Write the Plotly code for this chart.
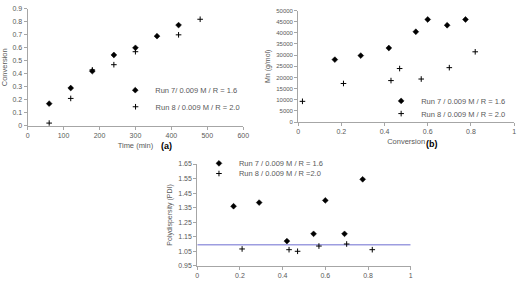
import plotly.graph_objects as go

# ---- data ----
time_r7 = [60, 120, 180, 240, 300, 360, 420]
conv_r7 = [0.17, 0.29, 0.42, 0.545, 0.60, 0.69, 0.775]
time_r8 = [60, 120, 180, 240, 300, 420, 480]
conv_r8 = [0.02, 0.21, 0.43, 0.47, 0.57, 0.70, 0.82]

mn_conv_r7 = [0.17, 0.29, 0.42, 0.545, 0.60, 0.69, 0.775]
mn_r7 = [28000, 29800, 33200, 40500, 46000, 43400, 46000]
mn_conv_r8 = [0.02, 0.21, 0.43, 0.47, 0.57, 0.70, 0.82]
mn_r8 = [9300, 17300, 18600, 24000, 19300, 24400, 31500]

pdi_conv_r7 = [0.17, 0.29, 0.42, 0.545, 0.60, 0.69, 0.775]
pdi_r7 = [1.36, 1.385, 1.12, 1.17, 1.40, 1.17, 1.545]
pdi_conv_r8 = [0.21, 0.43, 0.47, 0.57, 0.70, 0.82]
pdi_r8 = [1.066, 1.061, 1.05, 1.086, 1.10, 1.061]

ref_x = [0, 1]
ref_y = [1.095, 1.095]

W, H = 526, 290
GRAY = "#595959"
AX = "#a6a6a6"
FONT = "Liberation Sans, Arial, sans-serif"

fig = go.Figure()

r7 = dict(symbol="diamond", size=4.5, color="black", line=dict(color="black", width=0.5))
r8 = dict(symbol="cross-thin", size=4, color="black", line=dict(color="black", width=1))

fig.add_trace(go.Scatter(x=time_r7, y=conv_r7, mode="markers", marker=r7,
                         name="Run 7/ 0.009 M / R = 1.6", xaxis="x", yaxis="y", legend="legend"))
fig.add_trace(go.Scatter(x=time_r8, y=conv_r8, mode="markers", marker=r8,
                         name="Run 8 / 0.009 M / R = 2.0", xaxis="x", yaxis="y", legend="legend2"))
fig.add_trace(go.Scatter(x=mn_conv_r7, y=mn_r7, mode="markers", marker=r7,
                         name="Run 7 / 0.009 M / R = 1.6", xaxis="x2", yaxis="y2", legend="legend3"))
fig.add_trace(go.Scatter(x=mn_conv_r8, y=mn_r8, mode="markers", marker=r8,
                         name="Run 8 / 0.009 M / R = 2.0", xaxis="x2", yaxis="y2", legend="legend4"))
fig.add_trace(go.Scatter(x=ref_x, y=ref_y, mode="lines", line=dict(color="#9d9de0", width=1.5),
                         showlegend=False, hoverinfo="skip", xaxis="x3", yaxis="y3"))
fig.add_trace(go.Scatter(x=pdi_conv_r7, y=pdi_r7, mode="markers", marker=r7,
                         name="Run 7 / 0.009 M / R = 1.6", xaxis="x3", yaxis="y3", legend="legend5"))
fig.add_trace(go.Scatter(x=pdi_conv_r8, y=pdi_r8, mode="markers", marker=r8,
                         name="Run 8 / 0.009 M / R =2.0", xaxis="x3", yaxis="y3", legend="legend6"))


def px_x(p):
    return p / W


def px_y(p):
    return 1 - p / H


def axis(domain, rng, dtick, anchor, tickfont=7, **kw):
    d = dict(domain=domain, range=rng, dtick=dtick, anchor=anchor,
             showline=True, linecolor=AX, linewidth=1, ticks="outside",
             ticklen=3, tickcolor=AX, showgrid=False, zeroline=False,
             tickfont=dict(size=tickfont, color=GRAY, family=FONT))
    d.update(kw)
    return d


def leg(text_x, cy):
    return dict(x=px_x(text_x - 40), y=px_y(cy), xanchor="left", yanchor="middle",
                bgcolor="rgba(0,0,0,0)", borderwidth=0,
                font=dict(size=7.5, color=GRAY, family=FONT))


def ttl(text, size=7.5):
    return dict(text=text, font=dict(size=size, color=GRAY, family=FONT), standoff=4)


fig.update_layout(
    width=W, height=H, margin=dict(l=0, r=0, t=0, b=0), autosize=False,
    paper_bgcolor="white", plot_bgcolor="white",
    font=dict(family=FONT, color=GRAY),
    xaxis=axis([px_x(26), px_x(245)], [0, 600], 100, "y", title=ttl("Time (min)")),
    yaxis=axis([px_y(124.7), px_y(5)], [0, 0.9], 0.1, "x", title=ttl("Conversion")),
    xaxis2=axis([px_x(300.7), px_x(520)], [0, 1], 0.2, "y2", title=ttl("Conversion")),
    yaxis2=axis([px_y(121), px_y(6.7)], [0, 50000], 5000, "x2", tickfont=6, tickformat="d",
                title=ttl("Mn (g/mol)", 7)),
    xaxis3=axis([px_x(198.3), px_x(415)], [0, 1], 0.2, "y3"),
    yaxis3=axis([px_y(268.3), px_y(164)], [0.95, 1.65], 0.1, "x3", tickformat=".2f", tick0=0.95,
                title=ttl("Polydispersity (PDI)", 7)),
    legend=leg(155, 88.3),
    legend2=leg(155.3, 105.3),
    legend3=leg(425, 99.3),
    legend4=leg(425, 112.3),
    legend5=leg(240, 163.3),
    legend6=leg(240, 173.7),
    annotations=[
        dict(text="<b>(a)</b>", x=px_x(159), y=px_y(145.7), xref="paper", yref="paper",
             showarrow=False, font=dict(size=9, color="black", family=FONT)),
        dict(text="<b>(b)</b>", x=px_x(445), y=px_y(143.3), xref="paper", yref="paper",
             showarrow=False, font=dict(size=9, color="black", family=FONT)),
    ],
)

fig.write_html("out.html")
